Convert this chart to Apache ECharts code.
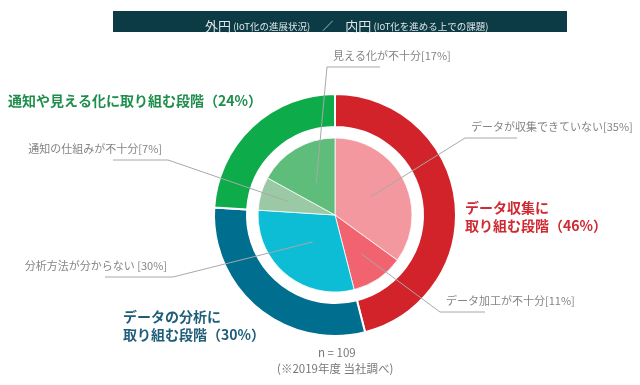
<!DOCTYPE html>
<html>
<head>
<meta charset="utf-8">
<script src="https://cdn.jsdelivr.net/npm/echarts@6/dist/echarts.min.js"></script>
<style>
html,body{margin:0;padding:0;background:#fff;}
#c{width:640px;height:385px;}
</style>
</head>
<body>
<div id="c"></div>
<script>
// ---- data ----
const outerNames = ['データ収集に\n取り組む段階', 'データの分析に\n取り組む段階', '通知や見える化に取り組む段階'];
const outerValues = [46, 30, 24];
const innerNames = ['データが収集できていない', 'データ加工が不十分', '分析方法が分からない', '通知の仕組みが不十分', '見える化が不十分'];
const innerValues = [35, 11, 30, 7, 17];
const sampleText = 'n = 109';
const noteText = '(※2019年度 当社調べ)';

// ---- styling ----
const FONT = '"Noto Sans CJK JP", "Noto Sans", sans-serif';
const outerColors = ['#d2232a', '#006f8f', '#0eab4b'];
const outerTextColors = ['#cf2a31', '#1f5e79', '#1f8e4b'];
const innerColors = ['#f4989f', '#f0636f', '#0dbcd5', '#9bc9a6', '#5ebd7a'];
const CX = 335, CY = 215;
// label layout: [bendX, bendY, segment length, side(+1 right / -1 left)]
const innerLabelAnchors = [
  [465, 138, 52, 1],
  [440, 312, 45, 1],
  [173, 277, 68, -1],
  [168, 160, 55, -1],
  [327, 67, 53, 1]
];
const innerStartR = [40, 47, 35, 49, 37];
const outerLabelPos = [
  [465, 217],
  [123, 326],
  [8, 101]
];

function midAngles(vals) {
  const total = vals.reduce((a, b) => a + b, 0);
  let cum = 0;
  return vals.map(v => { const a = (cum + v / 2) / total * Math.PI * 2; cum += v; return a; });
}
const innerMid = midAngles(innerValues);

const innerBase = {
  type: 'pie',
  center: [CX, CY],
  radius: [0, 77],
  startAngle: 90,
  clockwise: true,
  avoidLabelOverlap: false,
  emphasis: {disabled: true}
};

const chart = echarts.init(document.getElementById('c'), null, {renderer: 'canvas'});
chart.setOption({
  animation: false,
  title: {
    left: 200, top: 12,
    text: '{a|外円}{b| (IoT化の進展状況)}   {s|／}   {a|内円}{b| (IoT化を進める上での課題)}',
    textStyle: {
      fontFamily: FONT,
      fontWeight: 'normal',
      rich: {
        a: {fontSize: 13, color: '#dfe4e6', fontFamily: FONT, fontWeight: 'normal'},
        b: {fontSize: 9.5, color: '#dfe4e6', fontFamily: FONT, fontWeight: 'normal'},
        s: {fontSize: 11, color: '#dfe4e6', fontFamily: FONT, fontWeight: 'normal'}
      }
    }
  },
  graphic: [
    {type: 'rect', z: -1, shape: {x: 113, y: 11, width: 454, height: 21}, style: {fill: '#0c3a45'}},
    {type: 'text', left: 318, top: 347, style: {text: sampleText, fill: '#777', font: '11.5px ' + FONT}},
    {type: 'text', left: 277, top: 363, style: {text: noteText, fill: '#777', font: '11.5px ' + FONT}}
  ],
  series: [
    {
      type: 'pie',
      center: [CX, CY],
      radius: [88, 121],
      startAngle: 90,
      clockwise: true,
      avoidLabelOverlap: false,
      emphasis: {disabled: true},
      itemStyle: {borderColor: '#fff', borderWidth: 2},
      label: {
        show: true,
        position: 'outside',
        fontFamily: FONT,
        fontSize: 14,
        fontWeight: 'bold',
        lineHeight: 18,
        formatter: p => p.name + '（' + p.value + '%）'
      },
      labelLine: {show: false},
      labelLayout: p => ({
        x: outerLabelPos[p.dataIndex][0],
        y: outerLabelPos[p.dataIndex][1],
        align: 'left',
        verticalAlign: 'middle'
      }),
      data: outerValues.map((v, i) => ({
        value: v, name: outerNames[i],
        itemStyle: {color: outerColors[i]},
        label: {color: outerTextColors[i]}
      }))
    },
    Object.assign({}, innerBase, {
      z: 3,
      itemStyle: {borderColor: 'rgba(255,255,255,0.8)', borderWidth: 1},
      label: {show: false},
      labelLine: {show: false},
      data: innerValues.map((v, i) => ({
        value: v, name: innerNames[i],
        itemStyle: {color: innerColors[i]}
      }))
    }),
    // overlay carrying the labels so that leader lines sit above all slices
    Object.assign({}, innerBase, {
      z: 5,
      silent: true,
      itemStyle: {color: 'rgba(0,0,0,0)', borderWidth: 0},
      label: {
        show: true,
        position: 'outside',
        fontFamily: FONT,
        fontSize: 11,
        color: '#858585',
        formatter: p => p.name + (p.dataIndex === 2 ? ' ' : '') + '[' + p.value + '%]'
      },
      labelLine: {show: true, lineStyle: {color: '#a8a8a8', width: 1}},
      labelLayout: p => {
        const i = p.dataIndex;
        const [bx, by, len, side] = innerLabelAnchors[i];
        const a = innerMid[i];
        const r = innerStartR[i];
        const start = [CX + r * Math.sin(a), CY - r * Math.cos(a)];
        return {
          x: bx + side * 6,
          y: by - 11,
          align: side > 0 ? 'left' : 'right',
          verticalAlign: 'middle',
          labelLinePoints: [start, [bx, by], [bx + side * len, by]]
        };
      },
      data: innerValues.map((v, i) => ({value: v, name: innerNames[i]}))
    })
  ]
});
</script>
</body>
</html>
